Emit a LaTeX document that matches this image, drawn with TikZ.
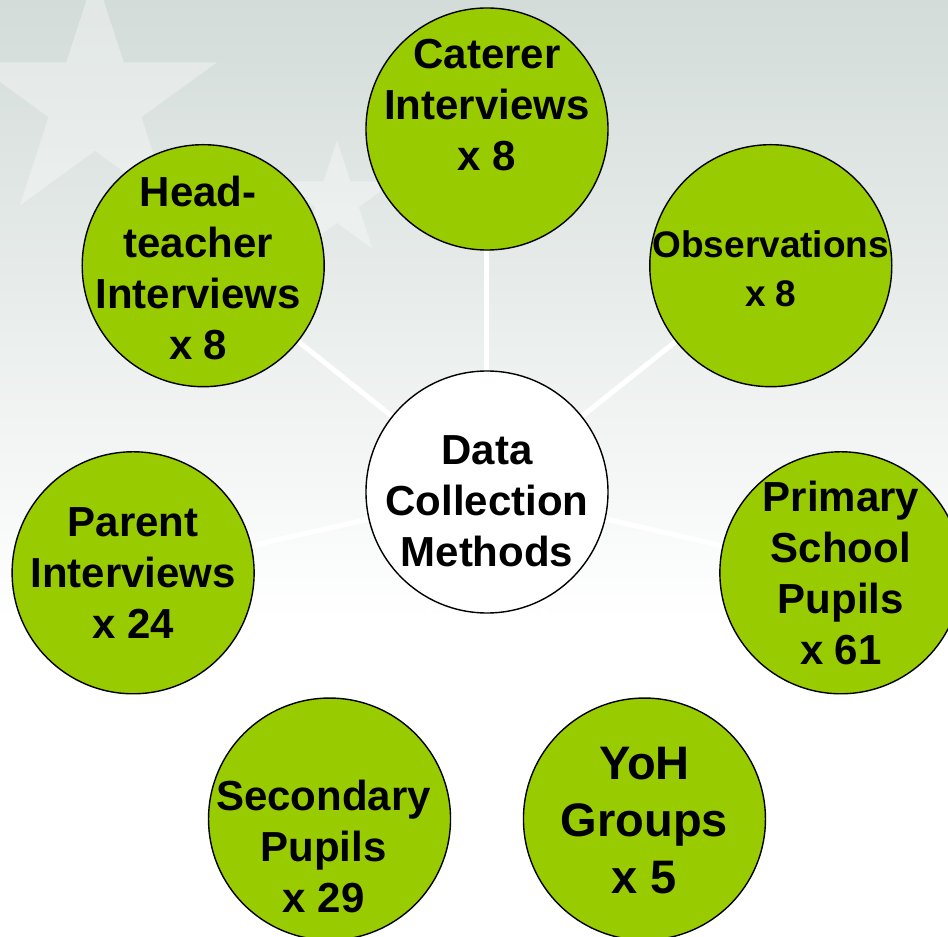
\documentclass[tikz,border=0pt]{standalone}
\usepackage{fontspec}
\setmainfont{Liberation Sans}
\usetikzlibrary{shapes.geometric}
\definecolor{leaf}{RGB}{153,204,0}
\definecolor{mist}{RGB}{211,220,217}
\pgfdeclarelayer{bg}
\pgfdeclarelayer{links}
\pgfsetlayers{bg,links,main}
\tikzset{
	disc1/.style={
		circle,
		fill=leaf,
		draw=black, line width=1.4pt,
		minimum size=242pt,
		inner sep=0pt},
	disc2/.style={
		disc1,
		fill=white},
	txt/.style={
		font=\bfseries\fontsize{42}{51}\selectfont,
		align=center},
	spoke/.style={white, line width=5pt},
	faint/.style={
		star, star points=5,
		star point ratio=2.618,
		fill=white, opacity=0.35,
		inner sep=0pt}
}

\begin{document}
\begin{tikzpicture}[x=1pt, y=1pt]
\useasboundingbox (-487,-445) rectangle (461,492);
% circles
\node[disc2] (hub) at (0,0) {};
\node[disc1] (cater) at (90:363) {};
\node[disc1] (observ) at (38.57:363) {};
\node[disc1] (primary) at (-12.86:363) {};
\node[disc1] (yoh) at (-64.29:363) {};
\node[disc1] (second) at (-115.71:363) {};
\node[disc1] (parent) at (192.86:363) {};
\node[disc1] (head) at (141.43:363) {};
% texts
\node[txt] (hubT) at ([yshift=-9pt]hub) {Data\\Collection\\Methods};
\node[txt] (caterT) at ([yshift=24pt]cater) {Caterer\\Interviews\\x 8};
\node[txt, font=\bfseries\fontsize{37}{49}\selectfont] (observT) at ([yshift=-3pt]observ) {Observations\\x 8};
\node[txt] (primaryT) at (primary) {Primary\\School\\Pupils\\x 61};
\node[txt, font=\bfseries\fontsize{47}{57}\selectfont] (yohT) at ([yshift=-2pt]yoh) {YoH\\Groups\\x 5};
\node[txt] (secondT) at ([shift={(-6,-27)}]second) {Secondary\\Pupils\\x 29};
\node[txt] (parentT) at (parent) {Parent\\Interviews\\x 24};
\node[txt] (headT) at ([shift={(-5,-2)}]head) {Head-\\teacher\\Interviews\\x 8};
\begin{pgfonlayer}{links}
\draw[spoke] (hub) -- (cater);
\draw[spoke] (hub) -- (observ);
\draw[spoke] (hub) -- (primary);
\draw[spoke] (hub) -- (yoh);
\draw[spoke] (hub) -- (second);
\draw[spoke] (hub) -- (parent);
\draw[spoke] (hub) -- (head);
\end{pgfonlayer}
\begin{pgfonlayer}{bg}
\fill[white] (-487,-445) rectangle (461,492);
\shade[top color=mist, bottom color=white] (-487,492) rectangle (461,-130);
\node[faint, minimum size=256pt] (star1) at (-392,390) {};
\node[faint, minimum size=120pt] (star2) at (-150,292) {};
\end{pgfonlayer}
\end{tikzpicture}
\end{document}
